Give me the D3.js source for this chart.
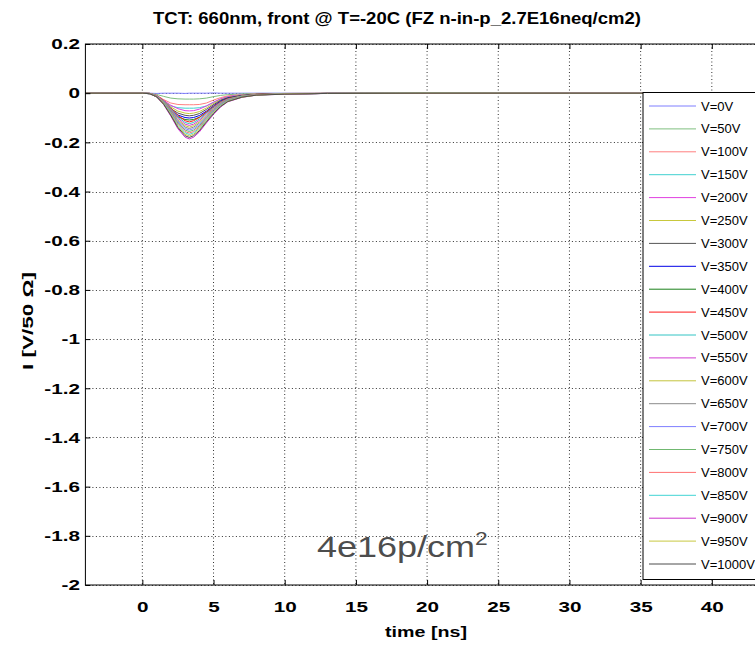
<!DOCTYPE html>
<html>
<head>
<meta charset="utf-8">
<script src="https://cdn.jsdelivr.net/npm/d3@7/dist/d3.min.js"></script>
<style>
  body { margin: 0; background: #fff; }
  svg { display: block; font-family: "Liberation Sans", Arial, Helvetica, sans-serif; }
</style>
</head>
<body>
<div id="chart"></div>
<script>
// time axis [ns]
const time = [-4, -2, 0, 0.5, 1, 1.5, 2, 2.5, 3, 3.3, 3.6, 4, 4.5, 5, 5.5, 6, 7, 8, 10, 13, 20, 30, 45];

const voltages = [0, 50, 100, 150, 200, 250, 300, 350, 400, 450, 500, 550, 600, 650, 700, 750, 800, 850, 900, 950, 1000];

// current I [V/50 Ohm], one array per bias voltage
const i0    = [0, 0.001, 0, 0, -0.001, 0, 0, 0, -0.001, 0, 0, 0, 0, 0.001, 0, 0, 0, 0, 0, 0, 0.001, 0, 0];
const i50   = [0, 0, 0, -0.001, -0.005, -0.013, -0.020, -0.023, -0.024, -0.024, -0.024, -0.023, -0.020, -0.014, -0.009, -0.006, -0.003, -0.001, -0.001, 0, 0, 0.001, 0];
const i100  = [0.001, 0, 0, -0.001, -0.009, -0.026, -0.040, -0.046, -0.047, -0.047, -0.047, -0.046, -0.040, -0.028, -0.018, -0.011, -0.006, -0.003, -0.001, 0, 0, 0, 0];
const i150  = [0, 0, 0.001, -0.001, -0.012, -0.034, -0.052, -0.059, -0.061, -0.061, -0.061, -0.059, -0.052, -0.037, -0.023, -0.015, -0.007, -0.004, -0.002, -0.001, 0, 0, 0];
const i200  = [0, 0, 0, -0.001, -0.010, -0.029, -0.049, -0.063, -0.071, -0.072, -0.071, -0.065, -0.052, -0.037, -0.023, -0.014, -0.007, -0.004, -0.002, -0.001, 0, 0, 0.001];
const i250  = [0, 0.001, 0, -0.001, -0.012, -0.033, -0.056, -0.073, -0.081, -0.083, -0.081, -0.075, -0.060, -0.042, -0.027, -0.017, -0.008, -0.004, -0.002, -0.001, 0, 0, 0];
const i300  = [0, 0, 0, -0.001, -0.013, -0.037, -0.063, -0.081, -0.090, -0.092, -0.090, -0.083, -0.066, -0.047, -0.029, -0.018, -0.009, -0.005, -0.002, -0.001, 0, 0, 0];
const i350  = [0, 0, 0, -0.002, -0.014, -0.040, -0.069, -0.089, -0.099, -0.101, -0.099, -0.091, -0.073, -0.052, -0.032, -0.020, -0.010, -0.005, -0.003, -0.001, 0, 0.001, 0];
const i400  = [0.001, 0, 0, -0.002, -0.015, -0.044, -0.074, -0.096, -0.107, -0.109, -0.107, -0.098, -0.078, -0.056, -0.035, -0.022, -0.011, -0.005, -0.003, -0.001, 0, 0, 0];
const i450  = [0, 0, 0, -0.001, -0.009, -0.029, -0.059, -0.091, -0.112, -0.117, -0.112, -0.099, -0.076, -0.054, -0.035, -0.022, -0.011, -0.005, -0.002, -0.001, 0, 0, 0];
const i500  = [0, 0, 0, -0.001, -0.010, -0.031, -0.062, -0.097, -0.119, -0.124, -0.119, -0.105, -0.081, -0.057, -0.037, -0.024, -0.011, -0.006, -0.002, -0.001, 0, 0, 0];
const i550  = [0, 0.001, 0, -0.001, -0.010, -0.033, -0.066, -0.102, -0.126, -0.131, -0.126, -0.111, -0.085, -0.060, -0.039, -0.025, -0.012, -0.006, -0.003, -0.001, 0, 0, 0];
const i600  = [0, 0, 0, -0.001, -0.011, -0.035, -0.069, -0.108, -0.132, -0.138, -0.132, -0.117, -0.090, -0.063, -0.041, -0.026, -0.012, -0.006, -0.003, -0.001, 0, 0, 0];
const i650  = [0, 0, 0, -0.001, -0.012, -0.036, -0.072, -0.112, -0.138, -0.144, -0.138, -0.122, -0.094, -0.066, -0.043, -0.027, -0.013, -0.006, -0.003, -0.001, 0, 0, 0];
const i700  = [0, 0, 0, -0.002, -0.012, -0.038, -0.075, -0.117, -0.144, -0.150, -0.144, -0.128, -0.098, -0.069, -0.045, -0.029, -0.014, -0.007, -0.003, -0.001, 0, 0, 0];
const i750  = [0, 0, 0, -0.002, -0.012, -0.039, -0.078, -0.122, -0.150, -0.156, -0.150, -0.133, -0.101, -0.072, -0.047, -0.030, -0.014, -0.007, -0.003, -0.001, 0, 0, 0];
const i800  = [0, 0, 0, -0.002, -0.013, -0.041, -0.081, -0.126, -0.156, -0.162, -0.156, -0.138, -0.105, -0.075, -0.049, -0.031, -0.015, -0.007, -0.003, -0.001, 0, 0, 0];
const i850  = [0, 0, 0, -0.002, -0.013, -0.042, -0.084, -0.131, -0.161, -0.168, -0.161, -0.143, -0.109, -0.077, -0.050, -0.032, -0.015, -0.008, -0.003, -0.001, 0, 0, 0];
const i900  = [0, 0, 0, -0.002, -0.015, -0.047, -0.093, -0.145, -0.179, -0.186, -0.179, -0.158, -0.121, -0.086, -0.056, -0.035, -0.017, -0.008, -0.004, -0.001, -0.001, 0, 0];
const i950  = [0, 0, 0, -0.002, -0.014, -0.044, -0.087, -0.136, -0.167, -0.174, -0.167, -0.148, -0.113, -0.080, -0.052, -0.033, -0.016, -0.008, -0.003, -0.001, 0, 0, 0];
const i1000 = [0, 0, 0, -0.002, -0.014, -0.045, -0.090, -0.140, -0.173, -0.180, -0.173, -0.153, -0.117, -0.083, -0.054, -0.034, -0.016, -0.008, -0.004, -0.001, 0, 0, 0];

const currents = [i0, i50, i100, i150, i200, i250, i300, i350, i400, i450, i500,
  i550, i600, i650, i700, i750, i800, i850, i900, i950, i1000];

const xTicks = [0, 5, 10, 15, 20, 25, 30, 35, 40];
const yTicks = [0.2, 0, -0.2, -0.4, -0.6, -0.8, -1, -1.2, -1.4, -1.6, -1.8, -2];

const colors = ['#7f7fff', '#7fbf7f', '#ff7f7f', '#40d0d0', '#e040e0', '#c8c83c', '#555555',
  '#0000e6', '#1a801a', '#ff1a1a', '#33c4c4', '#d23cd2', '#c4c43c', '#8c8c8c',
  '#7f7fff', '#70b870', '#ff7070', '#40d4d4', '#cc33cc', '#c8c840', '#4d4d4d'];

const width = 755;
const height = 646;
const margin = { left: 85.4, top: 44, right: 783, bottom: 585 };

const svg = d3.select('#chart').append('svg')
  .attr('width', width)
  .attr('height', height);

const x = d3.scaleLinear().domain([-4, 45]).range([margin.left, margin.right]);
const y = d3.scaleLinear().domain([-2, 0.2]).range([margin.bottom, margin.top]);

const fmt = d => String(+d.toFixed(1));

svg.append('clipPath').attr('id', 'plotclip')
  .append('rect')
  .attr('x', margin.left).attr('y', margin.top)
  .attr('width', margin.right - margin.left)
  .attr('height', margin.bottom - margin.top);

// grid
const grid = svg.append('g');
grid.selectAll('.gx')
  .data(xTicks)
  .enter()
  .append('line')
  .attr('x1', d => x(d)).attr('x2', d => x(d))
  .attr('y1', margin.top).attr('y2', margin.bottom)
  .attr('stroke', '#333').attr('stroke-width', 1)
  .attr('stroke-dasharray', '1,2.5');
grid.selectAll('.gy')
  .data(yTicks)
  .enter()
  .append('line')
  .attr('x1', margin.left).attr('x2', margin.right)
  .attr('y1', d => Math.round(y(d)) + 0.5).attr('y2', d => Math.round(y(d)) + 0.5)
  .attr('stroke', '#333').attr('stroke-width', 1)
  .attr('stroke-dasharray', '1,2.5');

// traces
const line = d3.line()
  .x((d, i) => x(time[i]))
  .y(d => y(d));

svg.append('g')
  .attr('clip-path', 'url(#plotclip)')
  .selectAll('path')
  .data(currents)
  .enter()
  .append('path')
  .attr('d', d => line(d))
  .attr('fill', 'none')
  .attr('stroke', (d, i) => colors[i])
  .attr('stroke-width', 1);

// axes (ticks pointing inward)
const xAxis = svg.append('g')
  .attr('transform', `translate(0, ${margin.bottom})`)
  .call(d3.axisBottom(x).tickValues(xTicks).tickSize(-5).tickPadding(16).tickFormat(fmt));
const xTop = svg.append('g')
  .attr('transform', `translate(0, ${margin.top})`)
  .call(d3.axisTop(x).tickValues(xTicks).tickSize(-5).tickFormat(''));
const yAxis = svg.append('g')
  .attr('transform', `translate(${margin.left}, 0)`)
  .call(d3.axisLeft(y).tickValues(yTicks).tickSize(-5).tickPadding(4).tickFormat(fmt));
const yRight = svg.append('g')
  .attr('transform', `translate(${margin.right}, 0)`)
  .call(d3.axisRight(y).tickValues(yTicks).tickSize(-5).tickFormat(''));

[xAxis, xTop, yAxis, yRight].forEach(g => {
  g.select('.domain').remove();
  g.selectAll('line').attr('stroke', '#000');
  g.selectAll('text')
    .attr('fill', '#000')
    .attr('transform', 'scale(1.38,1)')
    .style('font-size', '15px')
    .style('font-weight', 'bold');
});

svg.append('rect')
  .attr('x', margin.left).attr('y', margin.top)
  .attr('width', margin.right - margin.left)
  .attr('height', margin.bottom - margin.top)
  .attr('fill', 'none')
  .attr('stroke', '#000')
  .attr('stroke-width', 1);

// legend
const legend = svg.append('g');
legend.append('rect')
  .attr('x', 643).attr('y', 92.5)
  .attr('width', 200).attr('height', 487)
  .attr('fill', '#fff')
  .attr('stroke', '#000');

const entry = legend.selectAll('.entry')
  .data(voltages)
  .enter()
  .append('g')
  .attr('transform', (d, i) => `translate(0, ${106 + i * 22.9})`);
entry.append('line')
  .attr('x1', 649).attr('x2', 696)
  .attr('stroke', (d, i) => colors[i])
  .attr('stroke-width', 1);
entry.append('text')
  .attr('x', 701)
  .attr('dy', '0.35em')
  .style('font-size', '13px')
  .text(d => 'V=' + d + 'V');

// titles
svg.append('text')
  .attr('x', 397).attr('y', 24)
  .attr('text-anchor', 'middle')
  .attr('textLength', 488)
  .attr('lengthAdjust', 'spacingAndGlyphs')
  .style('font-size', '17px')
  .style('font-weight', 'bold')
  .text('TCT: 660nm, front @ T=-20C (FZ n-in-p_2.7E16neq/cm2)');

svg.append('text')
  .attr('x', 426).attr('y', 637)
  .attr('text-anchor', 'middle')
  .attr('textLength', 82)
  .attr('lengthAdjust', 'spacingAndGlyphs')
  .style('font-size', '15px')
  .style('font-weight', 'bold')
  .text('time [ns]');

svg.append('text')
  .attr('transform', 'translate(33, 321) rotate(-90)')
  .attr('text-anchor', 'middle')
  .attr('textLength', 98)
  .attr('lengthAdjust', 'spacingAndGlyphs')
  .style('font-size', '15px')
  .style('font-weight', 'bold')
  .text('I [V/50 Ω]');

const note = svg.append('text')
  .attr('transform', 'translate(317, 557) scale(1.2,1)')
  .attr('fill', '#4d4d4d')
  .style('font-size', '30px');
note.append('tspan').text('4e16p/cm');
note.append('tspan')
  .attr('dy', -12)
  .style('font-size', '19px')
  .text('2');
</script>
</body>
</html>
